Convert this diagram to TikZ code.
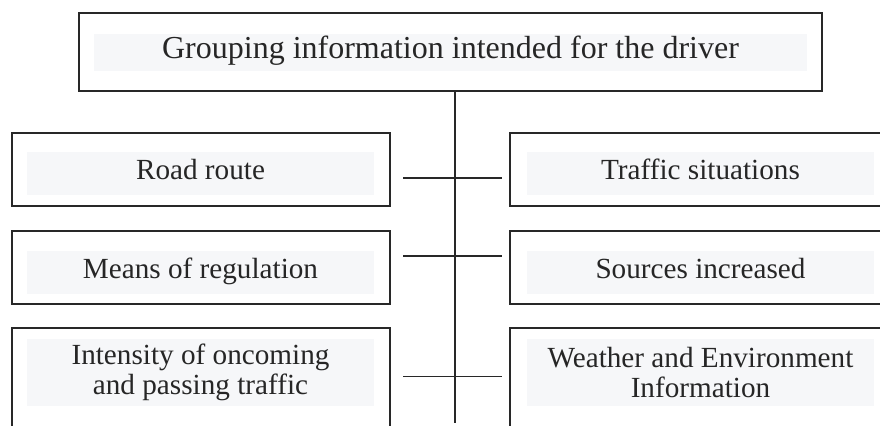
\documentclass[tikz,border=0pt]{standalone}
\usepackage{fontspec}
\setmainfont{Liberation Serif}
\usepackage{xcolor}
\definecolor{tagfill}{RGB}{246,247,249}
\definecolor{framegray}{RGB}{40,40,40}

\tikzset{
    infobox/.style={draw=framegray, line width=1pt, fill=white, inner sep=0pt,
        minimum width=189pt, minimum height=36.5pt},
    infotag/.style={fill=tagfill, inner sep=0pt, align=center, text=black!85,
        font=\fontsize{14.6}{15}\selectfont,
        minimum width=173.5pt, minimum height=21.5pt},
    oneline/.style={text height=0.8em, text depth=0.2em},
    link/.style={draw=framegray, line width=0.75pt}
}

\begin{document}
\begin{tikzpicture}[x=0.5pt, y=-0.5pt]
        \useasboundingbox (0,0) rectangle (880,426);
        \clip (0,0) rectangle (880,426);

        \node[infobox, minimum width=371.5pt, minimum height=39pt] (group) at (450.5,52) {};
        \node[infotag, oneline, font=\fontsize{16}{17}\selectfont,
            minimum width=356.5pt, minimum height=18.5pt] (grouptag) at (450.5,53)
            {Grouping information intended for the driver};

        % left column
        \node[infobox] (route) at (201,169.5) {};
        \node[infotag, oneline] (routetag) at (200.5,173.5) {Road route};
        \node[infobox] (regulation) at (201,268) {};
        \node[infotag, oneline] (regulationtag) at (200.5,272.5) {Means of regulation};
        \node[infobox, minimum height=54pt] (intensity) at (201,382) {};
        \node[infotag, minimum height=33.5pt] (intensitytag) at (200.5,372.5)
            {Intensity of oncoming\\and passing traffic};

        % right column
        \node[infobox] (situations) at (699,169.5) {};
        \node[infotag, oneline] (situationstag) at (700.5,173.5) {Traffic situations};
        \node[infobox] (sources) at (699,268) {};
        \node[infotag, oneline] (sourcestag) at (700.5,272.5) {Sources increased};
        \node[infobox, minimum height=54pt] (weather) at (699,382) {};
        \node[infotag, minimum height=33.5pt] (weathertag) at (700.5,372.5)
            {Weather and Environment\\Information};

        % spine and branches
        \coordinate (spine) at (455,423);
        \draw[link] (group.south -| spine) -- (spine);

        \coordinate (routelink) at (403,178);
        \coordinate (situationslink) at (502,178);
        \draw[link] (routelink) -- (situationslink);

        \coordinate (regulationlink) at (403,256);
        \coordinate (sourceslink) at (502,256);
        \draw[link] (regulationlink) -- (sourceslink);

        \coordinate (intensitylink) at (403,376.5);
        \coordinate (weatherlink) at (502,376.5);
        \draw[link] (intensitylink) -- (weatherlink);
\end{tikzpicture}
\end{document}
